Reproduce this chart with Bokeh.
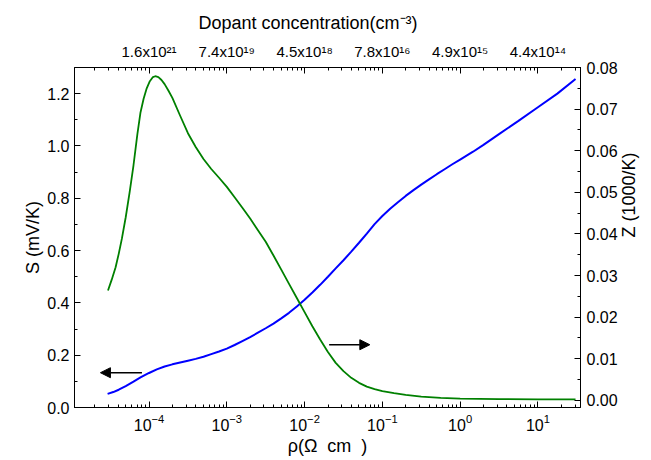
import math
from bokeh.plotting import figure
from bokeh.models import (Range1d, LinearAxis, LogAxis, FixedTicker, SingleIntervalTicker,
                          NumeralTickFormatter, Arrow, NormalHead)
from bokeh.embed import file_html
from bokeh.resources import INLINE

# Seebeck coefficient S (mV/K) vs resistivity (left axis, blue); resistivity given as log10(ρ / Ω cm)
log_rho_s = [-4.533, -4.46, -4.39, -4.30, -4.20, -4.11, -4.00, -3.90, -3.80, -3.70, -3.60,
             -3.50, -3.40, -3.30, -3.20, -3.10, -3.00, -2.90, -2.80, -2.70, -2.60, -2.50,
             -2.40, -2.30, -2.20, -2.10, -2.00, -1.90, -1.80, -1.70, -1.60, -1.50, -1.40,
             -1.30, -1.20, -1.10, -1.00, -0.90, -0.80, -0.70, -0.60, -0.50, -0.40, -0.30,
             -0.20, -0.10, 0.00, 0.166, 0.30, 0.50, 0.75, 1.00, 1.25, 1.484]
s_vals = [0.052, 0.059, 0.068, 0.082, 0.099, 0.115, 0.132, 0.146, 0.157, 0.165, 0.172,
          0.179, 0.186, 0.194, 0.204, 0.214, 0.225, 0.239, 0.254, 0.269, 0.286, 0.303,
          0.321, 0.341, 0.362, 0.386, 0.412, 0.440, 0.469, 0.500, 0.532, 0.563, 0.596,
          0.630, 0.665, 0.701, 0.732, 0.760, 0.785, 0.809, 0.831, 0.852, 0.872, 0.892,
          0.911, 0.930, 0.948, 0.978, 1.004, 1.045, 1.096, 1.148, 1.200, 1.256]

# Figure of merit Z (1000/K) vs resistivity (right axis, green)
log_rho_z = [-4.528, -4.48, -4.43, -4.39, -4.35, -4.30, -4.25, -4.20, -4.15, -4.11, -4.07,
             -4.03, -3.99, -3.95, -3.92, -3.88, -3.84, -3.80, -3.75, -3.70, -3.60, -3.50,
             -3.40, -3.30, -3.20, -3.10, -3.00, -2.90, -2.80, -2.70, -2.60, -2.50, -2.40,
             -2.30, -2.20, -2.10, -2.00, -1.90, -1.80, -1.70, -1.60, -1.50, -1.40, -1.30,
             -1.20, -1.10, -1.00, -0.85, -0.70, -0.50, -0.25, 0.00, 0.50, 1.00, 1.484]
z_vals = [0.0264, 0.0290, 0.0320, 0.0352, 0.0388, 0.0440, 0.0500, 0.0565, 0.0640, 0.0692, 0.0725,
          0.0750, 0.0767, 0.0777, 0.0779, 0.0777, 0.0770, 0.0760, 0.0744, 0.0727, 0.0684, 0.0642,
          0.0609, 0.0580, 0.0556, 0.0535, 0.0513, 0.0488, 0.0463, 0.0437, 0.0409, 0.0381, 0.0348,
          0.0314, 0.0280, 0.0246, 0.0212, 0.0178, 0.0146, 0.0116, 0.0090, 0.0070, 0.0054, 0.0042,
          0.0033, 0.0027, 0.0022, 0.0017, 0.0013, 0.0009, 0.0006, 0.0004, 0.0003, 0.0002, 0.0002]

rho_s = [10 ** v for v in log_rho_s]
rho_z = [10 ** v for v in log_rho_z]

# Top axis: dopant concentration at each resistivity decade
top_ticks = [1e-4, 1e-3, 1e-2, 1e-1, 1e0, 1e1]
top_labels = ["1.6x10²¹", "7.4x10¹⁹", "4.5x10¹⁸", "7.8x10¹⁶", "4.9x10¹⁵", "4.4x10¹⁴"]
top_title = "Dopant concentration(cm⁻³)"
right_title = "Z (1000/K)"

# Arrow annotations (x in Ω cm, y in S units)
arrow_s = dict(x_start=8.1e-5, x_end=2.37e-5, y=0.133)
arrow_z = dict(x_start=2.07e-2, x_end=6.9e-2, y=0.240)

FONT = "Liberation Sans"

p = figure(width=651, height=460, x_axis_type="log",
           x_range=Range1d(1.1e-5, 35.3), y_range=Range1d(0, 1.30),
           output_backend="svg", toolbar_location=None,
           min_border_left=74, min_border_right=70, min_border_top=67, min_border_bottom=53)
p.extra_y_ranges = {"z": Range1d(-0.00173, 0.08)}
p.grid.visible = False
p.outline_line_color = "black"
p.outline_line_width = 1
p.background_fill_color = "white"
p.border_fill_color = "white"

major_log = [1e-5, 1e-4, 1e-3, 1e-2, 1e-1, 1e0, 1e1]
minor_log = [k * d for d in major_log for k in range(2, 10)]

xb = p.xaxis[0]
xb.ticker = FixedTicker(ticks=major_log, minor_ticks=minor_log)
xb.axis_label = "ρ(Ω \u00a0cm \u00a0)"

yl = p.yaxis[0]
yl.ticker = SingleIntervalTicker(interval=0.2, num_minor_ticks=2)
yl.formatter = NumeralTickFormatter(format="0.0")
yl.axis_label = "S (mV/K)"

yr = LinearAxis(y_range_name="z", ticker=SingleIntervalTicker(interval=0.01, num_minor_ticks=2),
                formatter=NumeralTickFormatter(format="0.00"), axis_label=right_title)
p.add_layout(yr, "right")

xt = LogAxis(ticker=FixedTicker(ticks=top_ticks, minor_ticks=minor_log),
             major_label_overrides=dict(zip(top_ticks, top_labels)))
p.add_layout(xt, "above")

for ax in [xb, yl, yr, xt]:
    ax.major_label_text_font = FONT
    ax.major_label_text_font_size = "16px"
    ax.major_label_text_color = "black"
    ax.axis_label_text_font = FONT
    ax.axis_label_text_font_size = "18px"
    ax.axis_label_text_font_style = "normal"
    ax.axis_label_text_color = "black"
    ax.axis_line_color = "black"
    ax.major_tick_line_color = "black"
    ax.minor_tick_line_color = "black"
    ax.major_tick_in = 6
    ax.major_tick_out = 0
    ax.minor_tick_in = 3
    ax.minor_tick_out = 0

xt.major_label_text_font_size = "15px"
yl.major_label_standoff = 5
yl.axis_label_standoff = 1
yr.major_label_standoff = 6
yr.axis_label_standoff = 8
xb.major_label_standoff = 6
xb.axis_label_standoff = 2
xt.major_label_standoff = 8

try:
    yr.axis_label_orientation = math.pi / 2
except Exception:
    pass

p.title.text = top_title
p.title.align = "left"
p.title.offset = 124
p.title.standoff = 14
p.title.text_font = FONT
p.title.text_font_size = "18px"
p.title.text_font_style = "normal"
p.title.text_color = "black"

p.line(rho_s, s_vals, line_color="#0000FF", line_width=2)
p.line(rho_z, z_vals, line_color="#008000", line_width=1.8, y_range_name="z")

for a in (arrow_s, arrow_z):
    p.add_layout(Arrow(x_start=a["x_start"], x_end=a["x_end"], y_start=a["y"], y_end=a["y"],
                       line_color="black", line_width=1.5,
                       end=NormalHead(size=10, fill_color="black", line_color="black")))

open("out.html", "w").write(file_html(p, INLINE))
